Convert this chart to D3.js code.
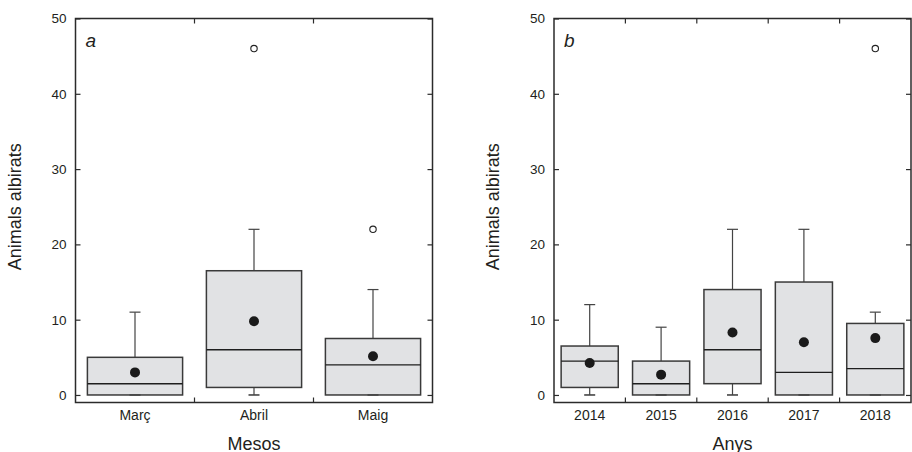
<!DOCTYPE html>
<html><head><meta charset="utf-8">
<script src="https://cdn.jsdelivr.net/npm/d3@7"></script>
<style>body{margin:0;background:#fff}svg{display:block}text{font-family:"Liberation Sans",Arial,sans-serif;fill:#231f20}</style>
</head><body><svg id="c" width="912" height="452"></svg>
<script>
// Panel a: months
const monthCats = ["Març","Abril","Maig"];
const monthWhiskerHigh = [11,22,14];
const monthQ3 = [5,16.5,7.5];
const monthMedian = [1.5,6,4];
const monthQ1 = [0,1,0];
const monthWhiskerLow = [0,0,0];
const monthMean = [3.0,9.8,5.15];
const monthOutliers = [[],[46],[22]];
// Panel b: years
const yearCats = ["2014","2015","2016","2017","2018"];
const yearWhiskerHigh = [12,9,22,22,11];
const yearQ3 = [6.5,4.5,14,15,9.5];
const yearMedian = [4.5,1.5,6,3,3.5];
const yearQ1 = [1,0,1.5,0,0];
const yearWhiskerLow = [0,0,0,0,0];
const yearMean = [4.25,2.7,8.3,7.0,7.55];
const yearOutliers = [[],[],[],[],[46]];
const yTicks = [0,10,20,30,40,50];
const yLabel = "Animals albirats";

const svg = d3.select("#c");
const ink = "#2b2b2b";

function panel(opt){
  const {left, width, top, height, cats, wh, q3, med, q1, wl, mean, outl, letter, xTitle, yTitleX} = opt;
  const g = svg.append("g").attr("transform",`translate(${left},${top})`);
  const x = d3.scaleBand().domain(cats).range([0,width]).padding(0);
  const y = d3.scaleLinear().domain([-1,50]).range([height,0]);
  const bw = x.bandwidth()*0.8, cw = 11;
  const rows = cats.map((c,i)=>({c,wh:wh[i],q3:q3[i],med:med[i],q1:q1[i],wl:wl[i],mean:mean[i],out:outl[i]}));
  const b = g.selectAll(".box").data(rows).join("g").attr("class","box")
    .attr("transform",d=>`translate(${x(d.c)+x.bandwidth()/2},0)`);
  // whiskers
  b.append("line").attr("x1",0).attr("x2",0).attr("y1",d=>y(d.wh)).attr("y2",d=>y(d.q3)).attr("stroke","#444").attr("stroke-width",1.2);
  b.append("line").attr("x1",0).attr("x2",0).attr("y1",d=>y(d.wl)).attr("y2",d=>y(d.q1)).attr("stroke","#444").attr("stroke-width",1.2);
  b.append("line").attr("x1",-cw/2).attr("x2",cw/2).attr("y1",d=>y(d.wh)).attr("y2",d=>y(d.wh)).attr("stroke","#444").attr("stroke-width",1.2);
  b.append("rect").attr("x",-bw/2).attr("width",bw).attr("y",d=>y(d.q3)).attr("height",d=>y(d.q1)-y(d.q3))
    .attr("fill","#e1e2e4").attr("stroke","#3a3a3a").attr("stroke-width",1.5);
  b.append("line").attr("x1",-cw/2).attr("x2",cw/2).attr("y1",d=>y(d.wl)).attr("y2",d=>y(d.wl)).attr("stroke","#444").attr("stroke-width",1.6);
  b.append("line").attr("x1",-bw/2).attr("x2",bw/2).attr("y1",d=>y(d.med)).attr("y2",d=>y(d.med)).attr("stroke","#1e1e1e").attr("stroke-width",1.4);
  b.append("circle").attr("cx",0).attr("cy",d=>y(d.mean)).attr("r",5).attr("fill","#1a1a1a");
  b.selectAll(".out").data(d=>d.out).join("circle").attr("class","out").attr("cx",0).attr("cy",v=>y(v)).attr("r",3.2)
    .attr("fill","#fff").attr("stroke","#222").attr("stroke-width",1.1);
  // frame
  g.append("rect").attr("x",0).attr("y",0).attr("width",width).attr("height",height).attr("fill","none").attr("stroke",ink).attr("stroke-width",1.5);
  // y axes
  const yl = g.append("g").call(d3.axisLeft(y).tickValues(yTicks).tickSize(-5).tickPadding(9));
  yl.select(".domain").remove();
  yl.selectAll("line").attr("stroke",ink).attr("stroke-width",1.2);
  yl.selectAll("text").style("font-size","13.5px");
  const yr = g.append("g").attr("transform",`translate(${width},0)`).call(d3.axisRight(y).tickValues(yTicks).tickSize(-5).tickFormat(""));
  yr.select(".domain").remove();
  yr.selectAll("line").attr("stroke",ink).attr("stroke-width",1.2);
  // x labels
  const xb = g.append("g").attr("transform",`translate(0,${height})`).call(d3.axisBottom(x).tickSize(0).tickPadding(8));
  xb.select(".domain").remove();
  xb.selectAll("text").style("font-size","14px");
  // boundary ticks
  const bounds = cats.slice(1).map(c=>x(c));
  g.selectAll(".bt").data(bounds).join("line").attr("x1",d=>d).attr("x2",d=>d).attr("y1",height).attr("y2",height-5).attr("stroke",ink).attr("stroke-width",1.2);
  g.selectAll(".tt").data(bounds).join("line").attr("x1",d=>d).attr("x2",d=>d).attr("y1",0).attr("y2",5).attr("stroke",ink).attr("stroke-width",1.2);
  // titles
  g.append("text").attr("x",width/2).attr("y",height+47).attr("text-anchor","middle").style("font-size","18px").text(xTitle);
  g.append("text").attr("transform",`translate(${yTitleX},${y(25)}) rotate(-90)`).attr("dy","0.35em").attr("text-anchor","middle").style("font-size","18px").text(yLabel);
  g.append("text").attr("x",10).attr("y",28).style("font-size","19px").style("font-style","italic").text(letter);
}

panel({left:75.5,width:357,top:18.5,height:384,cats:monthCats,wh:monthWhiskerHigh,q3:monthQ3,med:monthMedian,q1:monthQ1,wl:monthWhiskerLow,mean:monthMean,outl:monthOutliers,letter:"a",xTitle:"Mesos",yTitleX:-61});
panel({left:554,width:357,top:18.5,height:384,cats:yearCats,wh:yearWhiskerHigh,q3:yearQ3,med:yearMedian,q1:yearQ1,wl:yearWhiskerLow,mean:yearMean,outl:yearOutliers,letter:"b",xTitle:"Anys",yTitleX:-61});
</script></body></html>
